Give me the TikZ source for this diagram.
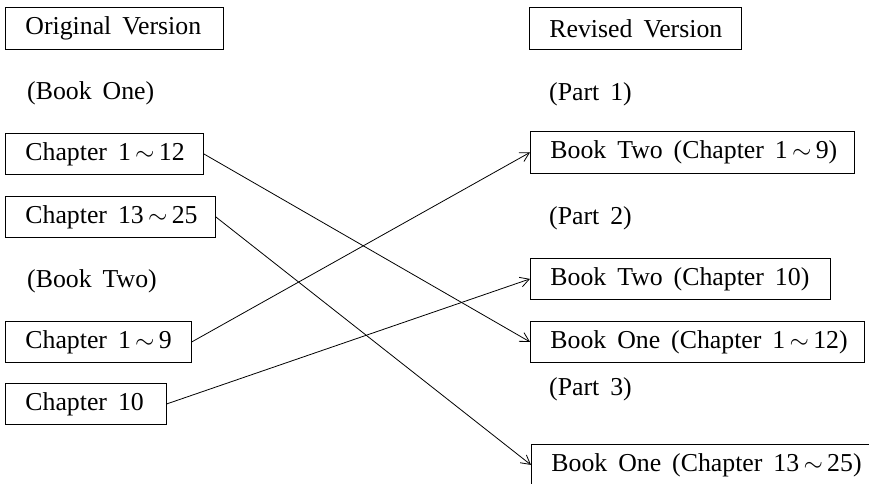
\documentclass[tikz,border=0pt]{standalone}
\usepackage{fontspec}
\setmainfont{Liberation Serif}[WordSpace=1.7]
\usetikzlibrary{arrows.meta}
\newcommand\wav{\,$\sim$\,}
\newcommand\bt[2]{\makebox[#1][l]{#2}}
\begin{document}
\begin{tikzpicture}[x=1pt,y=-1pt,
  txt/.style={font=\fontsize{25.8}{30}\selectfont, inner sep=0pt, anchor=west},
  bx/.style={draw, line width=0.8pt, font=\fontsize{25.8}{30}\selectfont,
    inner xsep=20pt, inner ysep=0pt, anchor=north west},
  conn/.style={line width=0.8pt, -{Straight Barb[length=9pt,width=10pt]}}]
\useasboundingbox (0,0) rectangle (869,483);
% left column
\node[bx, minimum height=42pt] (orig) at (5,7) {\bt{178pt}{Original Version}};
\node[txt] (bk1) at (27,93) {(Book One)};
\node[bx, minimum height=41pt] (c1) at (5,133) {\bt{158pt}{Chapter 1\wav 12}};
\node[bx, minimum height=41pt] (c2) at (5,196) {\bt{170pt}{Chapter 13\wav 25}};
\node[txt] (bk2) at (27,281) {(Book Two)};
\node[bx, minimum height=41pt] (c3) at (5,321) {\bt{146pt}{Chapter 1\wav 9}};
\node[bx, minimum height=41pt] (c4) at (5,383) {\bt{121pt}{Chapter 10}};
% right column
\node[bx, minimum height=42pt] (rev) at (529,7) {\bt{172pt}{Revised Version}};
\node[txt] (pt1) at (549,94) {(Part 1)};
\node[bx, minimum height=42pt] (p1) at (530,131) {\bt{284pt}{Book Two (Chapter 1\wav 9)}};
\node[txt] (pt2) at (549,218) {(Part 2)};
\node[bx, minimum height=41pt] (p2) at (530,258) {\bt{260pt}{Book Two (Chapter 10)}};
\node[bx, minimum height=41pt] (p3) at (530,321) {\bt{294pt}{Book One (Chapter 1\wav 12)}};
\node[txt] (pt3) at (549,389) {(Part 3)};
\node[bx, minimum height=41pt] (p4) at (531,444) {\bt{320pt}{Book One (Chapter 13\wav 25)}};
% connectors
\draw[conn] (c1.east) -- (p3.west);
\draw[conn] (c2.east) -- (p4.west);
\draw[conn] (c3.east) -- (p1.west);
\draw[conn] (c4.east) -- (p2.west);
\end{tikzpicture}
\end{document}
